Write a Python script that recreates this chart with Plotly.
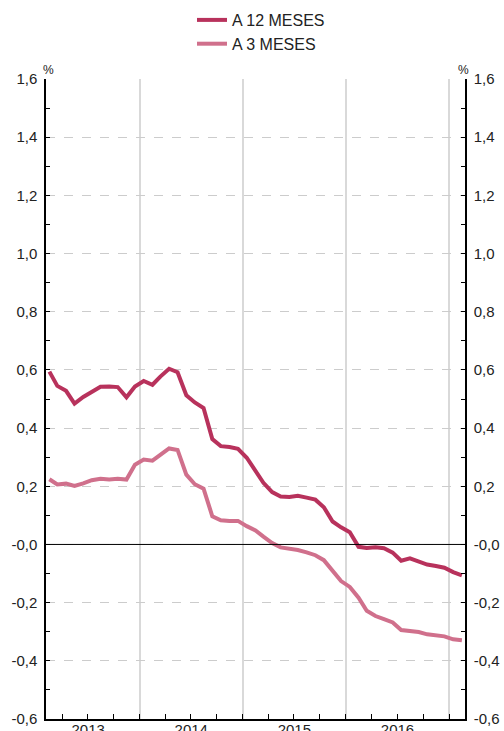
import plotly.graph_objects as go
import pandas as pd

months = [d.strftime("%Y-%m-15") for d in pd.date_range("2013-02-01", periods=49, freq="MS")]

euribor_12m = [0.594, 0.545, 0.528, 0.484, 0.507, 0.525, 0.542, 0.543, 0.541, 0.506,
               0.543, 0.562, 0.549, 0.577, 0.604, 0.592, 0.513, 0.488, 0.469, 0.362,
               0.338, 0.335, 0.329, 0.298, 0.255, 0.212, 0.180, 0.165, 0.163, 0.167,
               0.161, 0.154, 0.128, 0.079, 0.059, 0.042, -0.008, -0.012, -0.010, -0.013,
               -0.028, -0.056, -0.048, -0.057, -0.069, -0.074, -0.080, -0.095, -0.106]
euribor_3m = [0.224, 0.206, 0.209, 0.201, 0.210, 0.221, 0.226, 0.223, 0.226, 0.223,
              0.274, 0.292, 0.288, 0.308, 0.330, 0.325, 0.240, 0.207, 0.192, 0.097,
              0.083, 0.081, 0.081, 0.063, 0.048, 0.027, 0.005, -0.010, -0.014, -0.019,
              -0.027, -0.037, -0.054, -0.090, -0.126, -0.146, -0.183, -0.228, -0.246, -0.257,
              -0.268, -0.294, -0.298, -0.301, -0.309, -0.313, -0.316, -0.326, -0.329]

series_names = ["A 12 MESES", "A 3 MESES"]
y_tickvals = [-0.6, -0.4, -0.2, 0.0, 0.2, 0.4, 0.6, 0.8, 1.0, 1.2, 1.4, 1.6]
y_ticktext = ["-0,6", "-0,4", "-0,2", "-0,0", "0,2", "0,4", "0,6", "0,8", "1,0", "1,2", "1,4", "1,6"]

FONT = "Liberation Sans, Arial, sans-serif"
L, R, T, B = 46, 39, 79, 12
PW = 504 - L - R

fig = go.Figure()
fig.add_trace(go.Scatter(x=months, y=euribor_12m, mode="lines", name=series_names[0],
                         line=dict(color="#b8325c", width=4)))
fig.add_trace(go.Scatter(x=months, y=euribor_3m, mode="lines", name=series_names[1],
                         line=dict(color="#d0708c", width=4)))
# invisible trace for right axis
fig.add_trace(go.Scatter(x=months[:1], y=[0], yaxis="y2", showlegend=False,
                         mode="markers", marker=dict(opacity=0), hoverinfo="skip"))

yaxis_common = dict(
    range=[-0.6, 1.6], tickvals=y_tickvals, ticktext=y_ticktext,
    ticks="inside", ticklen=4, tickcolor="black", showline=True, linecolor="black",
    linewidth=1.5, tickfont=dict(family=FONT, size=15, color="#222"),
    minor=dict(dtick=0.1, tick0=0, ticks="inside", ticklen=4, tickcolor="black", showgrid=False),
    zeroline=False, automargin=False, ticklabelstandoff=4,
)

fig.update_layout(
    width=504, height=731,
    margin=dict(l=L, r=R, t=T, b=B, autoexpand=False),
    plot_bgcolor="white", paper_bgcolor="white",
    font=dict(family=FONT, size=15, color="#222"),
    showlegend=True,
    legend=dict(x=(192 - L) / PW, xanchor="left", y=1.0 - 3 / 731, yref="container", yanchor="top",
                orientation="v", font=dict(family=FONT, size=16, color="#222"),
                tracegroupgap=0, bgcolor="rgba(0,0,0,0)"),
    xaxis=dict(
        type="date", range=["2013-02-03", "2017-02-26"],
        dtick="M12", tick0="2013-01-01", tickformat="%Y", ticklabelmode="period",
        ticks="inside", ticklen=5, tickcolor="black",
        showgrid=True, gridcolor="#d9d9d9", gridwidth=1.5,
        showline=True, linecolor="black", linewidth=1.5,
        minor=dict(dtick="M3", tick0="2013-01-01", ticks="inside", ticklen=5,
                   tickcolor="black", showgrid=False),
        tickfont=dict(family=FONT, size=15, color="#222"), automargin=False,
        ticklabelstandoff=-4,
    ),
    yaxis=dict(side="left", showgrid=True, gridcolor="#cccccc", griddash="dash", gridwidth=1,
               **yaxis_common),
    yaxis2=dict(side="right", overlaying="y", showgrid=False, **yaxis_common),
    shapes=[dict(type="line", xref="paper", x0=0, x1=1, yref="y", y0=0, y1=0,
                 line=dict(color="black", width=1))],
    annotations=[
        dict(text="%", xref="paper", x=0, yref="paper", y=1, xanchor="center",
             yanchor="bottom", showarrow=False, yshift=0, xshift=2,
             font=dict(family=FONT, size=12, color="#222")),
        dict(text="%", xref="paper", x=1, yref="paper", y=1, xanchor="center",
             yanchor="bottom", showarrow=False, yshift=0, xshift=-2,
             font=dict(family=FONT, size=12, color="#222")),
    ],
)

fig.write_html("out.html", config={"displayModeBar": False},
               post_script="document.body.style.margin='0';document.body.style.overflow='hidden';")
